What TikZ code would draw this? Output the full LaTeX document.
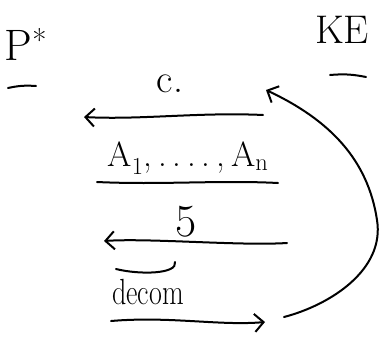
\documentclass[tikz,border=0pt]{standalone}
\usepackage{fontspec}
\usetikzlibrary{arrows.meta}
\begin{document}
\begin{tikzpicture}[x=1pt,y=-1pt,
  pen/.style={line width=2pt,line cap=round,line join=round},
  hand/.style={inner sep=0pt,anchor=center},
  tip/.style={-{Straight Barb[length=9pt,width=18pt,line width=2pt]}}]
\useasboundingbox (0,0) rectangle (380,337);
% headers
\node[hand,font=\fontsize{44}{44}\selectfont] (P) at (26,44) {P\textsuperscript{*}};
\node[hand,font=\fontsize{40}{40}\selectfont] (KE) at (342,30) {KE};
\coordinate (pu1) at (8,88); \coordinate (pu2) at (36,86);
\draw[pen] (pu1) to[bend left=8] (pu2);
\coordinate (ku1) at (330,75); \coordinate (ku2) at (366,77);
\draw[pen] (ku1) to[bend left=8] (ku2);
% message c
\coordinate (c1) at (263,115); \coordinate (c0) at (84,117);
\draw[pen,tip] (c1) .. controls (200,112) and (140,120) .. (c0);
\node[hand,font=\fontsize{40}{40}\selectfont] (c) at (170,84) {c.};
% A1,...,An
\node[hand,font=\fontsize{35}{35}\selectfont] (A) at (188,158) {A\textsubscript{1},\,.\,.\,.\,.\,,\,A\textsubscript{n}};
\coordinate (a0) at (97,182); \coordinate (a1) at (278,183);
\draw[pen] (a0) .. controls (160,185) and (220,180) .. (a1);
% message s
\coordinate (s1) at (287,243); \coordinate (s0) at (104,241);
\draw[pen,tip] (s1) .. controls (240,246) and (150,238) .. (s0);
\node[hand,font=\fontsize{46}{46}\selectfont] (s) at (186,222) {5};
% hook under
\coordinate (h0) at (116,269); \coordinate (h1) at (175,262);
\draw[pen] (h0) .. controls (140,275) and (178,274) .. (h1);
% decom
\node[hand,font=\fontsize{28}{28}\selectfont] (d) at (148,292) {\scalebox{1}[1.3]{decom}};
\coordinate (d0) at (111,321); \coordinate (d1) at (265,322);
\draw[pen,tip] (d0) .. controls (170,316) and (220,326) .. (d1);
% big loop back
\coordinate (L0) at (284,317); \coordinate (L1) at (266,90);
\draw[pen,tip] (L0) .. controls (330,305) and (385,270) .. (377,220)
  .. controls (368,160) and (330,120) .. (L1);
\end{tikzpicture}
\end{document}
